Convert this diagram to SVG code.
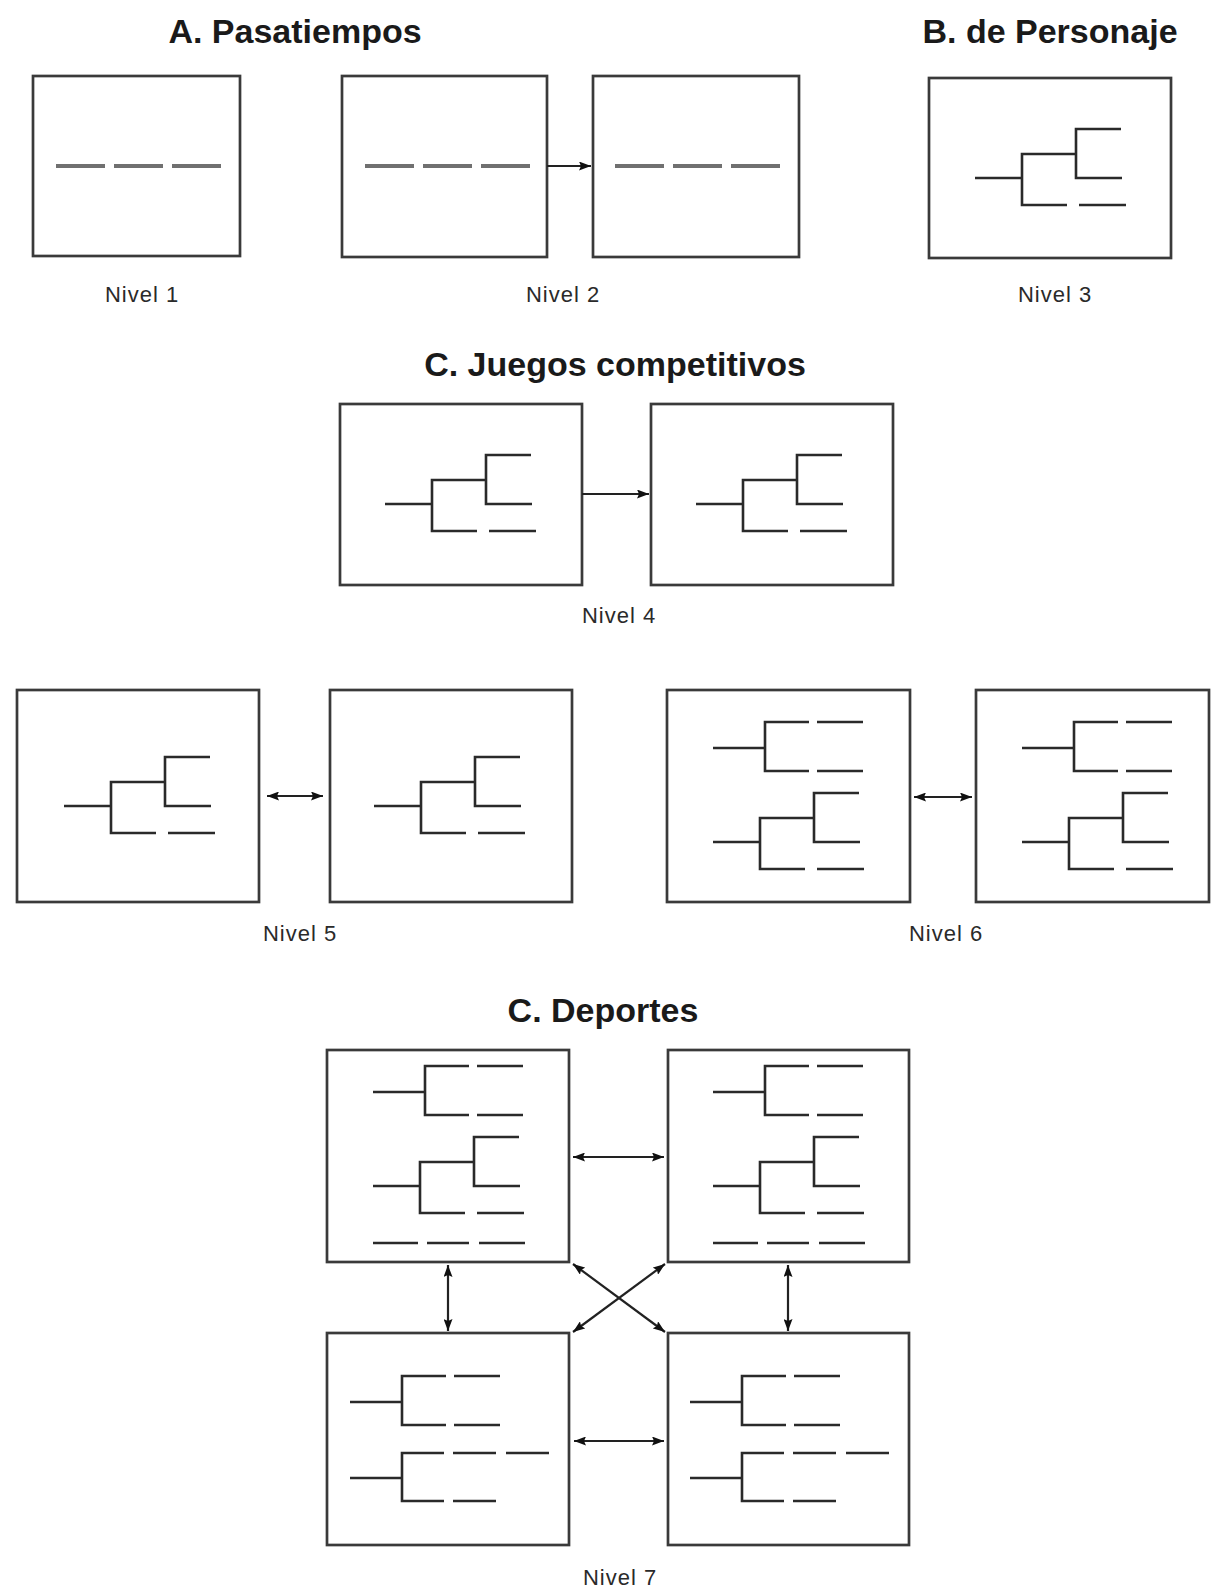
<svg xmlns="http://www.w3.org/2000/svg" xmlns:xlink="http://www.w3.org/1999/xlink" width="1211" height="1589" viewBox="0 0 1211 1589">
  <style>
    .title { font-family: "Liberation Sans", Arial, sans-serif; font-weight: bold; font-size: 34px; fill: #1a1a1a; text-anchor: middle; }
    .level { font-family: "Liberation Sans", Arial, sans-serif; font-size: 22px; letter-spacing: 1px; fill: #2a2a2a; text-anchor: middle; }
    .box { fill: #ffffff; stroke: #3a3a3a; stroke-width: 2.7; }
    .tree { fill: none; stroke: #2a2a2a; stroke-width: 2.6; stroke-linejoin: miter; stroke-linecap: butt; }
    .blank { fill: none; stroke: #707070; stroke-width: 4; }
    .conn { fill: none; stroke: #222222; stroke-width: 2.2; }
  </style>
  <defs>
    <marker id="head" viewBox="0 0 12 9" refX="12" refY="4.5" markerWidth="12" markerHeight="9" markerUnits="userSpaceOnUse" orient="auto-start-reverse">
      <path d="M0,0 L12,4.5 L0,9 L2,4.5 z" fill="#111111"/>
    </marker>
    <!-- three blank slots on one line -->
    <path id="blanks" d="M0,0 H49 M58,0 H107 M116,0 H165"/>
    <!-- bracket with three outcomes: two joined, one open -->
    <path id="tree3" d="M0,0 H47 M92,27 H47 V-24 H101 M146,-49 H101 V0 H147 M104,27 H151"/>
    <!-- two-way bracket, each arm followed by an open slot -->
    <path id="fork" d="M0,0 H52 M96,-26 H52 V23 H96 M104,-26 H150 M104,23 H150"/>
    <!-- two-way bracket with an extra slot on the upper arm -->
    <path id="fork3" d="M0,0 H52 M94,-25 H52 V23 H94 M103,-25 H146 M156,-25 H199 M103,23 H146"/>
    <!-- row of three short slots -->
    <path id="row3" d="M0,0 H45 M54,0 H96 M106,0 H152"/>
  </defs>

  <!-- section titles -->
  <text class="title" x="295" y="43">A. Pasatiempos</text>
  <text class="title" x="1050" y="43">B. de Personaje</text>
  <text class="title" x="615" y="376">C. Juegos competitivos</text>
  <text class="title" x="603" y="1022">C. Deportes</text>

  <!-- level captions -->
  <text class="level" x="142" y="302">Nivel 1</text>
  <text class="level" x="563" y="302">Nivel 2</text>
  <text class="level" x="1055" y="302">Nivel 3</text>
  <text class="level" x="619" y="623">Nivel 4</text>
  <text class="level" x="300" y="941">Nivel 5</text>
  <text class="level" x="946" y="941">Nivel 6</text>
  <text class="level" x="620" y="1585">Nivel 7</text>

  <!-- Level 1 -->
  <g id="n1">
    <rect class="box" x="33" y="76" width="207" height="180"/>
    <use xlink:href="#blanks" class="blank" x="56" y="166"/>
  </g>

  <!-- Level 2 -->
  <g id="n2a">
    <rect class="box" x="342" y="76" width="205" height="181"/>
    <use xlink:href="#blanks" class="blank" x="365" y="166"/>
  </g>
  <g id="n2b">
    <rect class="box" x="593" y="76" width="206" height="181"/>
    <use xlink:href="#blanks" class="blank" x="615" y="166"/>
  </g>

  <!-- Level 3 -->
  <g id="n3">
    <rect class="box" x="929" y="78" width="242" height="180"/>
    <use xlink:href="#tree3" class="tree" x="975" y="178"/>
  </g>

  <!-- Level 4 -->
  <g id="n4a">
    <rect class="box" x="340" y="404" width="242" height="181"/>
    <use xlink:href="#tree3" class="tree" x="385" y="504"/>
  </g>
  <g id="n4b">
    <rect class="box" x="651" y="404" width="242" height="181"/>
    <use xlink:href="#tree3" class="tree" x="696" y="504"/>
  </g>

  <!-- Level 5 -->
  <g id="n5a">
    <rect class="box" x="17" y="690" width="242" height="212"/>
    <use xlink:href="#tree3" class="tree" x="64" y="806"/>
  </g>
  <g id="n5b">
    <rect class="box" x="330" y="690" width="242" height="212"/>
    <use xlink:href="#tree3" class="tree" x="374" y="806"/>
  </g>

  <!-- Level 6 -->
  <g id="n6a">
    <rect class="box" x="667" y="690" width="243" height="212"/>
    <use xlink:href="#fork" class="tree" x="713" y="748"/>
    <use xlink:href="#tree3" class="tree" x="713" y="842"/>
  </g>
  <g id="n6b">
    <rect class="box" x="976" y="690" width="233" height="212"/>
    <use xlink:href="#fork" class="tree" x="1022" y="748"/>
    <use xlink:href="#tree3" class="tree" x="1022" y="842"/>
  </g>

  <!-- Level 7 -->
  <g id="n7a">
    <rect class="box" x="327" y="1050" width="242" height="212"/>
    <use xlink:href="#fork" class="tree" x="373" y="1092"/>
    <use xlink:href="#tree3" class="tree" x="373" y="1186"/>
    <use xlink:href="#row3" class="tree" x="373" y="1243"/>
  </g>
  <g id="n7b">
    <rect class="box" x="668" y="1050" width="241" height="212"/>
    <use xlink:href="#fork" class="tree" x="713" y="1092"/>
    <use xlink:href="#tree3" class="tree" x="713" y="1186"/>
    <use xlink:href="#row3" class="tree" x="713" y="1243"/>
  </g>
  <g id="n7c">
    <rect class="box" x="327" y="1333" width="242" height="212"/>
    <use xlink:href="#fork" class="tree" x="350" y="1402"/>
    <use xlink:href="#fork3" class="tree" x="350" y="1478"/>
  </g>
  <g id="n7d">
    <rect class="box" x="668" y="1333" width="241" height="212"/>
    <use xlink:href="#fork" class="tree" x="690" y="1402"/>
    <use xlink:href="#fork3" class="tree" x="690" y="1478"/>
  </g>

  <!-- connectors -->
  <g id="connectors">
    <line class="conn" x1="547" y1="166" x2="591" y2="166" marker-end="url(#head)"/>
    <line class="conn" x1="582" y1="494" x2="649" y2="494" marker-end="url(#head)"/>
    <line class="conn" x1="267" y1="796" x2="323" y2="796" marker-start="url(#head)" marker-end="url(#head)"/>
    <line class="conn" x1="914" y1="797" x2="972" y2="797" marker-start="url(#head)" marker-end="url(#head)"/>
    <line class="conn" x1="573" y1="1157" x2="664" y2="1157" marker-start="url(#head)" marker-end="url(#head)"/>
    <line class="conn" x1="574" y1="1441" x2="664" y2="1441" marker-start="url(#head)" marker-end="url(#head)"/>
    <line class="conn" x1="448" y1="1265" x2="448" y2="1331" marker-start="url(#head)" marker-end="url(#head)"/>
    <line class="conn" x1="788" y1="1265" x2="788" y2="1331" marker-start="url(#head)" marker-end="url(#head)"/>
    <line class="conn" x1="573" y1="1264" x2="665" y2="1332" marker-start="url(#head)" marker-end="url(#head)"/>
    <line class="conn" x1="665" y1="1264" x2="573" y2="1332" marker-start="url(#head)" marker-end="url(#head)"/>
  </g>
</svg>
